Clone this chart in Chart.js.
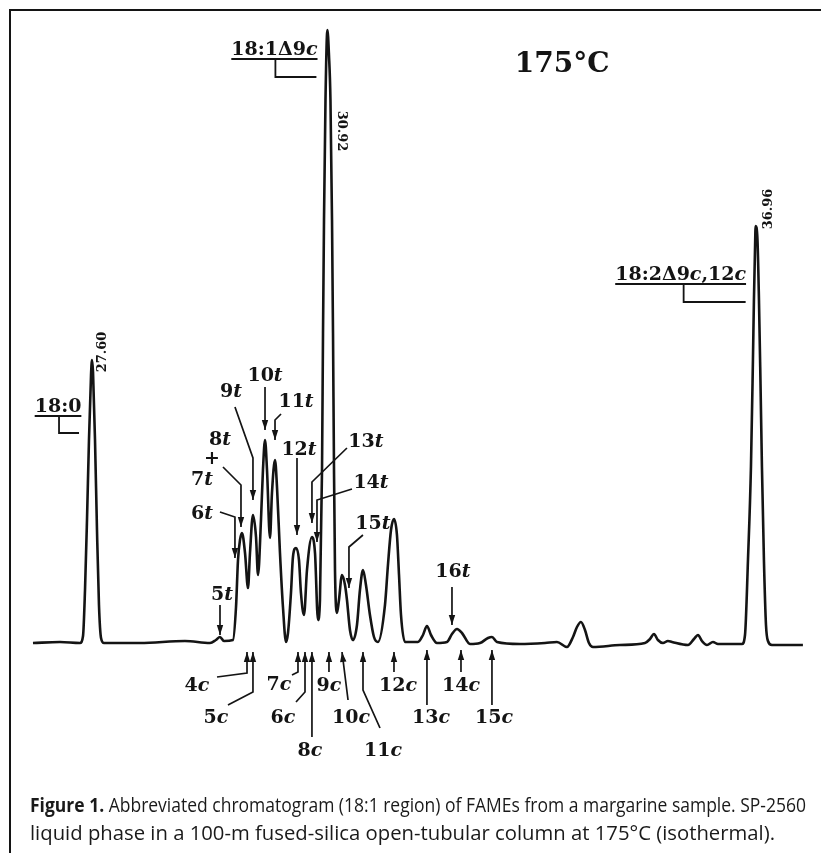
<!DOCTYPE html>
<html>
<head>
<meta charset="utf-8">
<script src="https://cdn.jsdelivr.net/npm/chart.js@4.4.1/dist/chart.umd.min.js"></script>
<style>
  html, body { margin: 0; padding: 0; background: #fff; }
  #gc { display: block; }
</style>
</head>
<body>
<canvas id="gc" width="821" height="853"></canvas>
<script>
// retention time (min) and detector response (arbitrary units) of the trace
const retentionTime = [
  26.767, 27.148, 27.430, 27.473, 27.501, 27.529, 27.557, 27.586, 27.600, 27.614,
  27.642, 27.670, 27.698, 27.727, 27.769, 28.277, 28.911, 29.264, 29.348, 29.405,
  29.461, 29.588, 29.631, 29.659, 29.687, 29.715, 29.758, 29.800, 29.828, 29.870,
  29.913, 29.941, 29.983, 30.011, 30.040, 30.068, 30.110, 30.138, 30.181, 30.209,
  30.251, 30.293, 30.336, 30.364, 30.406, 30.434, 30.477, 30.519, 30.547, 30.590,
  30.632, 30.702, 30.745, 30.787, 30.815, 30.844, 30.858, 30.872, 30.893, 30.920,
  30.942, 30.963, 30.985, 30.999, 31.013, 31.027, 31.055, 31.083, 31.126, 31.168,
  31.196, 31.238, 31.281, 31.337, 31.379, 31.422, 31.464, 31.520, 31.577, 31.633,
  31.732, 31.774, 31.817, 31.859, 31.901, 31.930, 31.958, 32.014, 32.197, 32.268,
  32.324, 32.381, 32.465, 32.606, 32.677, 32.748, 32.818, 32.931, 33.072, 33.185,
  33.241, 33.312, 33.636, 33.989, 34.158, 34.299, 34.384, 34.440, 34.496, 34.553,
  34.609, 34.666, 35.046, 35.399, 35.470, 35.526, 35.582, 35.653, 35.723, 35.780,
  36.006, 36.090, 36.147, 36.203, 36.274, 36.358, 36.429, 36.767, 36.810, 36.852,
  36.894, 36.922, 36.936, 36.951, 36.960, 36.986, 37.007, 37.028, 37.049, 37.077,
  37.106, 37.134, 37.190, 37.627
];
const detectorResponse = [
  0, 1, 0, 7, 53, 123, 203, 268, 283, 271,
  203, 113, 38, 5, 0, 0, 2, 0, 3, 6,
  2, 3, 36, 83, 103, 110, 90, 55, 90, 128,
  106, 68, 123, 173, 203, 173, 105, 150, 183, 156,
  90, 36, 1, 10, 50, 86, 95, 83, 50, 28,
  73, 106, 90, 23, 43, 173, 310, 423, 543, 613,
  588, 543, 423, 310, 173, 73, 30, 43, 68, 58,
  43, 13, 3, 18, 53, 73, 58, 28, 6, 1,
  38, 78, 113, 124, 108, 68, 28, 1, 1, 8,
  17, 8, 0, 1, 9, 14, 10, -1, 0, 5,
  6, 1, -1, 0, 1, -4, 6, 16, 21, 13,
  0, -4, -2, 0, 4, 9, 3, 0, 2, 1,
  -2, 4, 8, 2, -2, 1, -1, -1, 8, 83,
  176, 283, 343, 393, 417, 403, 343, 263, 176, 83,
  18, 2, -2, -2
];

// main components: name, retention time, apex height
const majorPeaks = ['18:0', '18:1Δ9c', '18:2Δ9c,12c'];
const majorTime = [27.60, 30.92, 36.96];
const majorHeight = [283, 613, 417];

// trans isomers, arrows point down onto the trace
const transPeaks = ['5t', '6t', '7t+8t', '9t', '10t', '11t', '12t', '13t', '14t', '15t', '16t'];
const transTime = [29.405, 29.616, 29.701, 29.870, 30.040, 30.181, 30.491, 30.702, 30.773, 31.224, 32.677];
const transLevel = [8, 85, 116, 143, 213, 203, 108, 120, 101, 55, 18];

// cis isomers, arrows point up from under the baseline
const cisPeaks = ['4c', '5c', '6c', '7c', '8c', '9c', '10c', '11c', '12c', '13c', '14c', '15c'];
const cisTime = [29.786, 29.870, 30.604, 30.505, 30.702, 30.942, 31.126, 31.422, 31.859, 32.324, 32.804, 33.241];
const cisLevel = [-9, -9, -9, -9, -9, -9, -9, -9, -9, -7, -7, -7];

const X_MIN = 26.302, X_MAX = 37.882;
const Y_MIN = -210, Y_MAX = 643;

// leader lines: bend points and label centres, px offsets from the arrow tip
const leaders = {
  '5t': { path: [[0, -30]], text: [[2, -42]] },
  '6t': { path: [[0, -41], [-15, -46]], text: [[-33, -46]] },
  '7t+8t': { path: [[0, -42], [-18, -60]], text: [[-21, -89], [-29, -70], [-39, -49]] },
  '9t': { path: [[0, -42], [-18, -93]], text: [[-22, -110]] },
  '10t': { path: [[0, -43]], text: [[0, -56]] },
  '11t': { path: [[0, -20], [6, -26]], text: [[21, -40]] },
  '12t': { path: [[0, -77]], text: [[2, -87]] },
  '13t': { path: [[0, -41], [35, -75]], text: [[54, -83]] },
  '14t': { path: [[0, -42], [35, -53]], text: [[54, -61]] },
  '15t': { path: [[0, -41], [14, -53]], text: [[24, -66]] },
  '16t': { path: [[0, -38]], text: [[1, -55]] },
  '4c': { path: [[0, 21], [-30, 25]], text: [[-50, 32]] },
  '5c': { path: [[0, 40], [-25, 53]], text: [[-37, 64]] },
  '6c': { path: [[0, 40], [-9, 50]], text: [[-22, 64]] },
  '7c': { path: [[0, 20], [-6, 23]], text: [[-19, 31]] },
  '8c': { path: [[0, 85]], text: [[-2, 97]] },
  '9c': { path: [[0, 20]], text: [[0, 32]] },
  '10c': { path: [[6, 48]], text: [[9, 64]] },
  '11c': { path: [[0, 38], [17, 76]], text: [[20, 97]] },
  '12c': { path: [[0, 20]], text: [[4, 32]] },
  '13c': { path: [[0, 55]], text: [[4, 66]] },
  '14c': { path: [[0, 22]], text: [[0, 34]] },
  '15c': { path: [[0, 55]], text: [[2, 66]] }
};

// bracketed names of the main peaks, px offsets from the apex
const brackets = [
  { text: [-34, 45], stem: -33, hook: 73, end: -13, rt: [11, -8], rot: -1 },
  { text: [-53, 18], stem: -52, hook: 47, end: -11, rt: [14, 101], rot: 1 },
  { text: [-75, 47], stem: -72, hook: 76, end: -10, rt: [13, -17], rot: -1 }
];

const INK = '#141414';
const SERIF = '"DejaVu Serif", "Liberation Serif", serif';
const SANS = '"Open Sans", "Noto Sans", sans-serif';

// lowercase letters (t, c) are set in italic
const runsOf = (text) => {
  const runs = [];
  for (const ch of text) {
    const it = /[a-z]/.test(ch);
    if (runs.length && runs[runs.length - 1].it === it) runs[runs.length - 1].s += ch;
    else runs.push({ s: ch, it });
  }
  return runs;
};

const drawRich = (ctx, text, cx, cy, size) => {
  const runs = runsOf(text);
  let w = 0;
  runs.forEach(r => {
    ctx.font = (r.it ? 'italic ' : '') + 'bold ' + size + 'px ' + SERIF;
    r.w = ctx.measureText(r.s).width;
    w += r.w;
  });
  let x = cx - w / 2;
  ctx.textAlign = 'left';
  ctx.textBaseline = 'alphabetic';
  runs.forEach(r => {
    ctx.font = (r.it ? 'italic ' : '') + 'bold ' + size + 'px ' + SERIF;
    ctx.fillText(r.s, x, cy + size * 0.36);
    x += r.w;
  });
  return w;
};

const drawArrow = (ctx, tx, ty, path) => {
  ctx.beginPath();
  ctx.moveTo(tx, ty);
  path.forEach(p => ctx.lineTo(tx + p[0], ty + p[1]));
  ctx.stroke();
  // arrow head along the first segment
  const dx = -path[0][0], dy = -path[0][1];
  const len = Math.hypot(dx, dy);
  const ux = dx / len, uy = dy / len;
  const hl = 10, hw = 3.2;
  ctx.beginPath();
  ctx.moveTo(tx, ty);
  ctx.lineTo(tx - ux * hl - uy * hw, ty - uy * hl + ux * hw);
  ctx.lineTo(tx - ux * hl + uy * hw, ty - uy * hl - ux * hw);
  ctx.closePath();
  ctx.fill();
};

// draws one caption line squeezed to a given width
const fitLine = (ctx, parts, x, y, width) => {
  let total = 0;
  parts.forEach(p => {
    ctx.font = p.font;
    p.w = ctx.measureText(p.s).width;
    total += p.w;
  });
  ctx.save();
  ctx.translate(x, y);
  ctx.scale(width / total, 1);
  let cx = 0;
  parts.forEach(p => {
    ctx.font = p.font;
    ctx.fillText(p.s, cx, 0);
    cx += p.w;
  });
  ctx.restore();
};

const pagePlugin = {
  id: 'page',
  beforeDraw(chart) {
    const ctx = chart.ctx;
    ctx.save();
    ctx.fillStyle = '#fff';
    ctx.fillRect(0, 0, chart.width, chart.height);
    // frame of the figure box
    ctx.strokeStyle = INK;
    ctx.lineWidth = 2;
    ctx.beginPath();
    ctx.moveTo(10, chart.height);
    ctx.lineTo(10, 10);
    ctx.lineTo(chart.width, 10);
    ctx.stroke();

    // caption
    ctx.fillStyle = '#1a1a1a';
    ctx.textBaseline = 'alphabetic';
    ctx.textAlign = 'left';
    fitLine(ctx, [
      { s: 'Figure 1.', font: 'bold 20px ' + SANS },
      { s: ' Abbreviated chromatogram (18:1 region) of FAMEs from a margarine sample. SP-2560', font: '20px ' + SANS }
    ], 30, 812, 776);
    fitLine(ctx, [
      { s: 'liquid phase in a 100-m fused-silica open-tubular column at 175°C (isothermal).', font: '20px ' + SANS }
    ], 30, 840, 745);
    ctx.restore();
  },
  afterDatasetsDraw(chart) {
    const ctx = chart.ctx;
    const xs = chart.scales.x, ys = chart.scales.y;
    ctx.save();
    ctx.fillStyle = INK;
    ctx.strokeStyle = INK;
    ctx.lineWidth = 1.7;
    ctx.lineJoin = 'miter';

    const label = (name, t, v) => {
      const tx = xs.getPixelForValue(t), ty = ys.getPixelForValue(v);
      const spec = leaders[name];
      drawArrow(ctx, tx, ty, spec.path);
      if (name.includes('+')) {
        const [a, b] = name.split('+');
        drawRich(ctx, b, tx + spec.text[0][0], ty + spec.text[0][1], 19);
        drawRich(ctx, '+', tx + spec.text[1][0], ty + spec.text[1][1], 19);
        drawRich(ctx, a, tx + spec.text[2][0], ty + spec.text[2][1], 19);
      } else {
        drawRich(ctx, name, tx + spec.text[0][0], ty + spec.text[0][1], 19);
      }
    };
    transPeaks.forEach((n, i) => label(n, transTime[i], transLevel[i]));
    cisPeaks.forEach((n, i) => label(n, cisTime[i], cisLevel[i]));

    // main peaks: underlined name with a bracket, and the retention time
    majorPeaks.forEach((n, i) => {
      const ax = xs.getPixelForValue(majorTime[i]), ay = ys.getPixelForValue(majorHeight[i]);
      const b = brackets[i];
      const cx = ax + b.text[0], cy = ay + b.text[1];
      const w = drawRich(ctx, n, cx, cy, 19);
      ctx.lineWidth = 1.8;
      ctx.beginPath();
      ctx.moveTo(cx - w / 2, cy + 11);
      ctx.lineTo(cx + w / 2, cy + 11);
      ctx.moveTo(ax + b.stem, cy + 11);
      ctx.lineTo(ax + b.stem, ay + b.hook);
      ctx.lineTo(ax + b.end, ay + b.hook);
      ctx.stroke();

      ctx.save();
      ctx.translate(ax + b.rt[0], ay + b.rt[1]);
      ctx.rotate(b.rot * Math.PI / 2);
      ctx.font = 'bold 13px ' + SERIF;
      ctx.textAlign = 'center';
      ctx.textBaseline = 'middle';
      ctx.fillText(majorTime[i].toFixed(2), 0, 0);
      ctx.restore();
    });

    // column temperature
    ctx.font = 'bold 28px ' + SERIF;
    ctx.textAlign = 'center';
    ctx.textBaseline = 'alphabetic';
    ctx.fillText('175°C', xs.getPixelForValue(34.23), ys.getPixelForValue(571));
    ctx.restore();
  }
};

new Chart(document.getElementById('gc').getContext('2d'), {
  type: 'line',
  data: {
    datasets: [{
      data: retentionTime.map((t, i) => ({ x: t, y: detectorResponse[i] })),
      borderColor: INK,
      borderWidth: 2.6,
      pointRadius: 0,
      fill: false,
      cubicInterpolationMode: 'monotone'
    }]
  },
  options: {
    responsive: false,
    animation: false,
    devicePixelRatio: 1,
    layout: { padding: 0 },
    scales: {
      x: { type: 'linear', min: X_MIN, max: X_MAX, bounds: 'data', display: false },
      y: { type: 'linear', min: Y_MIN, max: Y_MAX, bounds: 'data', display: false }
    },
    plugins: {
      legend: { display: false },
      tooltip: { enabled: false }
    }
  },
  plugins: [pagePlugin]
});
</script>
</body>
</html>
